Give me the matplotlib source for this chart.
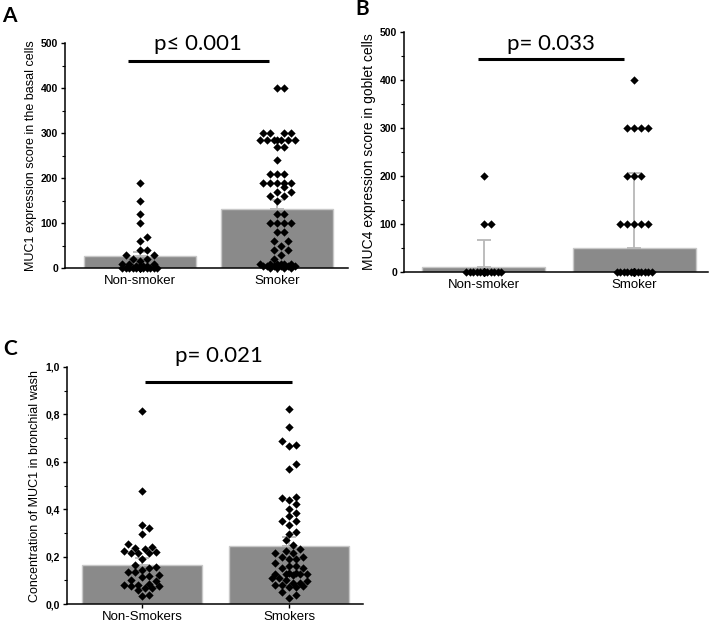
import matplotlib

matplotlib.use("Agg")
import matplotlib.pyplot as plt
import numpy as np
from matplotlib.ticker import FuncFormatter, MultipleLocator

plt.rcParams["font.family"] = ["Liberation Sans", "DejaVu Sans"]
TITLE_FONT = ["Lato", "DejaVu Sans"]

# Panel A - MUC1 in basal cells
a_labels = ["Non-smoker", "Smoker"]
a_means = [26, 132]
a_errs = [10, 19]
a_non = [190, 150, 120, 100, 70, 60, 40, 40, 30, 30, 20, 20, 15, 10, 10, 10,
         5, 5, 5, 5, 0, 0, 0, 0, 0, 0, 0, 0, 0, 0, 0, 0, 0, 0, 0]
a_smk = [400, 400, 300, 300, 300, 300, 285, 285, 285, 285, 285, 285, 285,
         270, 270, 240, 210, 210, 210, 190, 190, 190, 190, 190, 180, 170, 170,
         160, 160, 150, 120, 120, 100, 100, 100, 100, 80, 80, 60, 60, 50, 40,
         40, 30, 20, 10, 10, 10, 10, 10, 10, 5, 5, 5, 5, 5, 5, 0, 0, 0, 0]

# Panel B - MUC4 in goblet cells
b_labels = ["Non-smoker", "Smoker"]
b_means = [10, 51]
b_errs = [57, 156]
b_non = [200, 100, 100] + [0] * 35
b_smk = [400, 300, 300, 300, 300, 200, 200, 200,
         100, 100, 100, 100, 100] + [0] * 40

# Panel C - MUC1 in bronchial wash
c_labels = ["Non-Smokers", "Smokers"]
c_means = [0.163, 0.245]
c_errs = [0.03, 0.038]
c_non = [0.815, 0.475, 0.334, 0.32, 0.296, 0.255, 0.24, 0.235, 0.23, 0.225,
         0.22, 0.217, 0.217, 0.215, 0.19, 0.165, 0.155, 0.15, 0.145, 0.133,
         0.133, 0.123, 0.12, 0.115, 0.1, 0.095, 0.085, 0.08, 0.08, 0.077,
         0.074, 0.067, 0.067, 0.06, 0.04, 0.033]
c_smk = [0.822, 0.748, 0.688, 0.672, 0.668, 0.592, 0.568, 0.447, 0.45, 0.44,
         0.42, 0.40, 0.385, 0.37, 0.35, 0.35, 0.335, 0.305, 0.297, 0.27, 0.25,
         0.23, 0.225, 0.215, 0.215, 0.20, 0.20, 0.19, 0.19, 0.175, 0.16, 0.16,
         0.15, 0.15, 0.13, 0.13, 0.125, 0.125, 0.125, 0.125, 0.122, 0.11, 0.11,
         0.10, 0.095, 0.09, 0.09, 0.08, 0.08, 0.075, 0.07, 0.07, 0.05, 0.04,
         0.025]

W, H = 709, 624
fig = plt.figure(figsize=(W / 100, H / 100), dpi=100)


def swarm(ax, xc, values, diam=7.0, max_half=20):
    # simple beeswarm in pixel space, capped width (overlap when full)
    trans = ax.transData
    x0 = trans.transform((xc, 0))[0]
    step = diam / 2
    cand = [0.0]
    k = 1
    while k * step <= max_half:
        cand += [k * step, -k * step]
        k += 1
    placed = []
    offs = np.zeros(len(values))
    for i in np.argsort(values, kind="stable"):
        py = trans.transform((xc, values[i]))[1]
        best, bestd = 0.0, -1
        for c in cand:
            if placed:
                d = min(np.hypot(x0 + c - px, py - qy) for px, qy in placed)
            else:
                d = np.inf
            if d >= diam:
                best = c
                break
            if d > bestd:
                best, bestd = c, d
        placed.append((x0 + best, py))
        offs[i] = best
    px_unit = trans.transform((1, 0))[0] - trans.transform((0, 0))[0]
    return xc + offs / px_unit


def rect(left, top, right, bottom):
    return [left / W, 1 - bottom / H, (right - left) / W, (bottom - top) / H]


def panel(box, xlim, ylim, major, minor, means, errs, groups, labels, ylabel,
          ptxt, line_x, line_y, text_y, ylab_size=9, fmt=None):
    ax = fig.add_axes(box)
    ax.set_xlim(xlim)
    ax.set_ylim(ylim)
    x = np.arange(len(labels))
    ax.bar(x, means, width=0.82, color="#8a8a8a", edgecolor="#c8c8c8",
           linewidth=1, zorder=1)
    ax.errorbar(x, means, yerr=[[0] * len(errs), errs], fmt="none",
                ecolor="#b8b8b8", elinewidth=1.3, capsize=5, capthick=1.3,
                zorder=2)
    for xi, vals in zip(x, groups):
        xs = swarm(ax, xi, vals)
        ax.scatter(xs, vals, marker="D", s=18, color="black", linewidths=0,
                   zorder=3, clip_on=False)

    for side in ["top", "right"]:
        ax.spines[side].set_visible(False)
    for side in ["left", "bottom"]:
        ax.spines[side].set_linewidth(1.1)
    ax.yaxis.set_major_locator(MultipleLocator(major))
    ax.yaxis.set_minor_locator(MultipleLocator(minor))
    if fmt is not None:
        ax.yaxis.set_major_formatter(fmt)
    ax.tick_params(axis="y", which="major", length=3, width=1, labelsize=7.5,
                   pad=2)
    ax.tick_params(axis="y", which="minor", length=2, width=0.8)
    for t in ax.get_yticklabels():
        t.set_fontweight("bold")
    ax.set_xticks(x)
    ax.set_xticklabels(labels, fontsize=9.5)
    ax.tick_params(axis="x", length=3, width=1, pad=2)
    ax.set_ylabel(ylabel, fontsize=ylab_size, labelpad=3)

    ax.plot(line_x, [line_y, line_y], color="black", lw=2.2,
            solid_capstyle="butt", clip_on=False, zorder=4)
    ax.text(np.mean(line_x), text_y, ptxt, ha="center", va="baseline",
            fontsize=16, family=TITLE_FONT)
    return ax


panel(rect(65, 43, 348, 268), (-0.547, 1.518), (0, 500), 100, 50,
      a_means, a_errs, [a_non, a_smk], a_labels,
      "MUC1 expression score in the basal cells", "p\u2264 0.001",
      [-0.09, 0.94], 460, 484)

panel(rect(404, 32, 708, 272), (-0.533, 1.493), (0, 500), 100, 50,
      b_means, b_errs, [b_non, b_smk], b_labels,
      "MUC4 expression score in goblet cells", "p= 0.033",
      [-0.04, 0.93], 444, 462, ylab_size=10)

comma = FuncFormatter(lambda v, p: f"{v:.1f}".replace(".", ","))
panel(rect(67, 367, 363, 604), (-0.51, 1.503), (0, 1.0), 0.2, 0.1,
      c_means, c_errs, [c_non, c_smk], c_labels,
      "Concentration of MUC1 in bronchial wash", "p= 0.021",
      [0.02, 1.02], 0.937, 1.02, fmt=comma)

for letter, (px, py) in zip("ABC", [(2, 22), (355, 15), (3, 355)]):
    fig.text(px / W, 1 - py / H, letter, fontsize=15, family=TITLE_FONT,
             fontweight="bold", ha="left", va="baseline")

fig.savefig("out.png", dpi=100)
